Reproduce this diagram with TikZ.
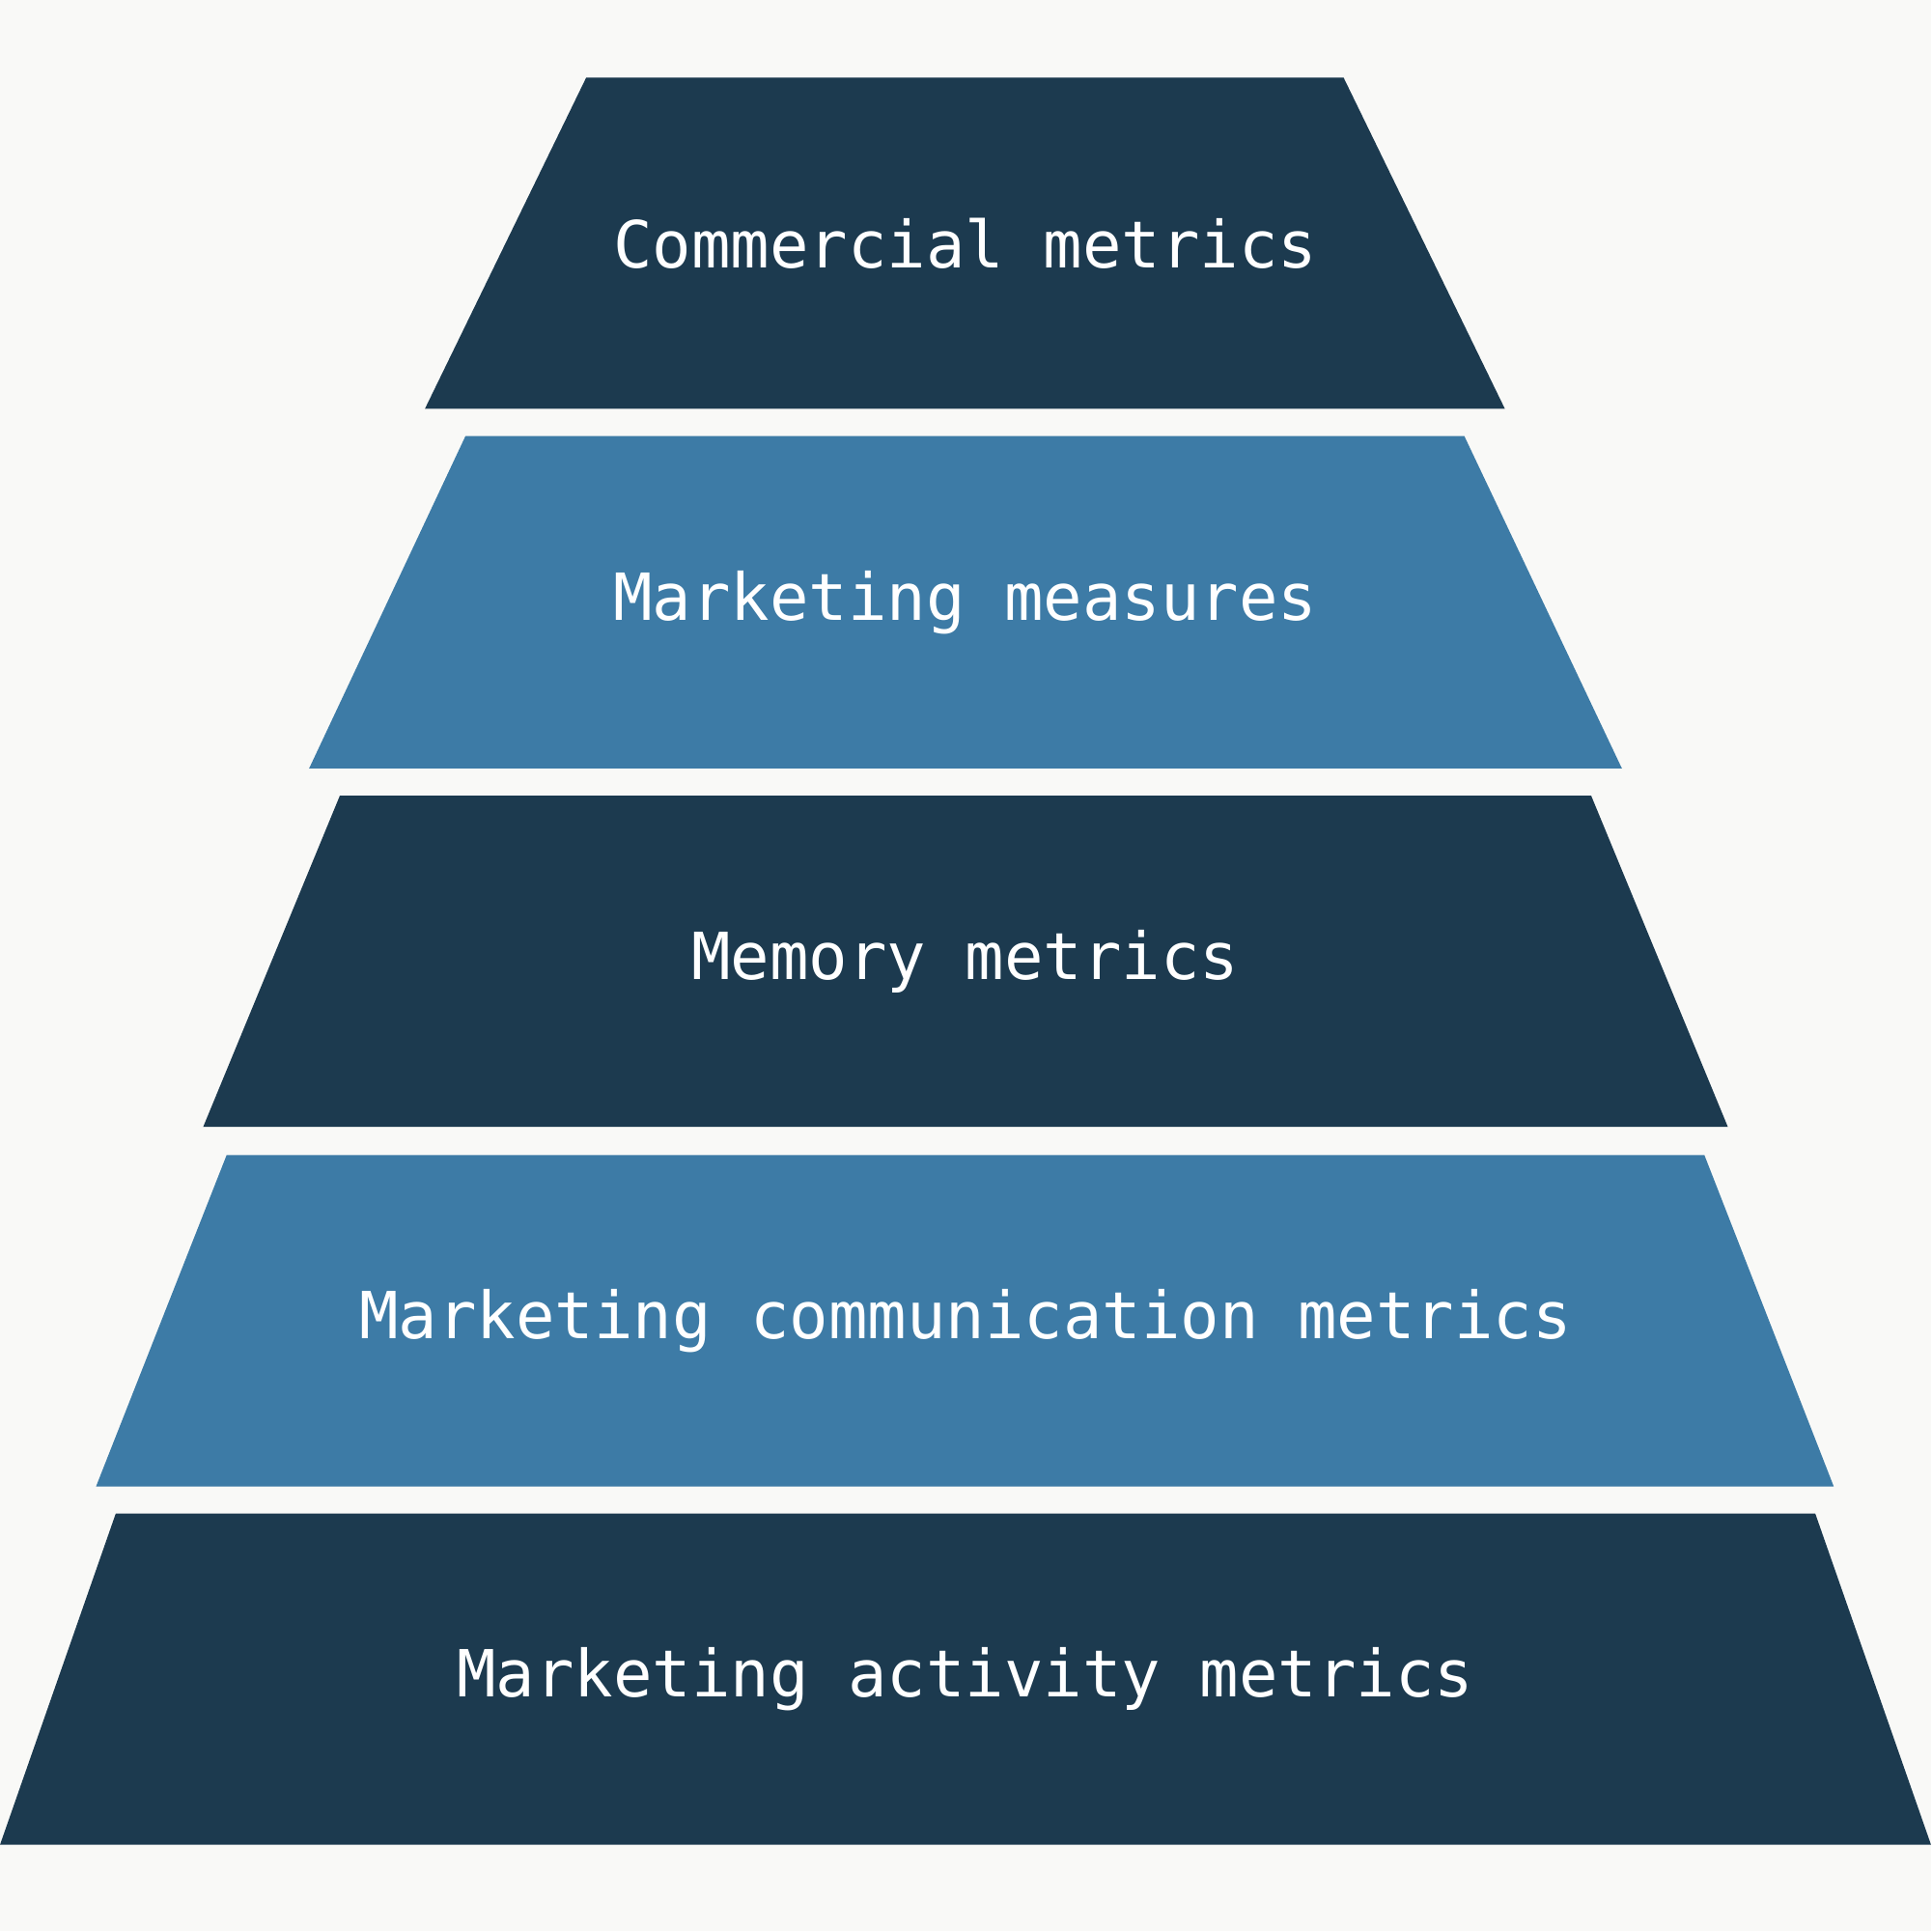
\documentclass[tikz,border=0pt]{standalone}
\usepackage{fontspec}
\setmonofont{DejaVu Sans Mono}
\definecolor{navy}{HTML}{1C3A4F}
\definecolor{steel}{HTML}{3D7BA6}
\definecolor{paper}{HTML}{F9F9F7}
\begin{document}
\begin{tikzpicture}[
        x=0.01cm, y=-0.01cm,
        layer/.style={draw=none},
        label/.style={text=white, font=\ttfamily\fontsize{15}{18}\selectfont},
    ]
    \fill[paper] (0,0) rectangle (1568,1568);
    \useasboundingbox (0,0) rectangle (1568,1568);
    % top y / top left / top right / bottom y / bottom left / bottom right / colour / name / text
    \foreach \ty/\tl/\tr/\by/\bl/\br/\col/\nm/\txt in {
            63/476/1091/332/345/1222/navy/commercial/Commercial metrics,
            354/378/1189/624/251/1317/steel/measures/Marketing measures,
            646/276/1292/915/165/1403/navy/memory/Memory metrics,
            938/184/1384/1207/78/1489/steel/communication/Marketing communication metrics,
            1229/94/1474/1498/0/1568/navy/activity/Marketing activity metrics}{
        \fill[layer, fill=\col] (\tl,\ty) -- (\tr,\ty) -- (\br,\by) -- (\bl,\by) -- cycle;
        \node[label] (\nm) at (784,{(\ty+\by)/2}) {\txt};
    }
\end{tikzpicture}
\end{document}
